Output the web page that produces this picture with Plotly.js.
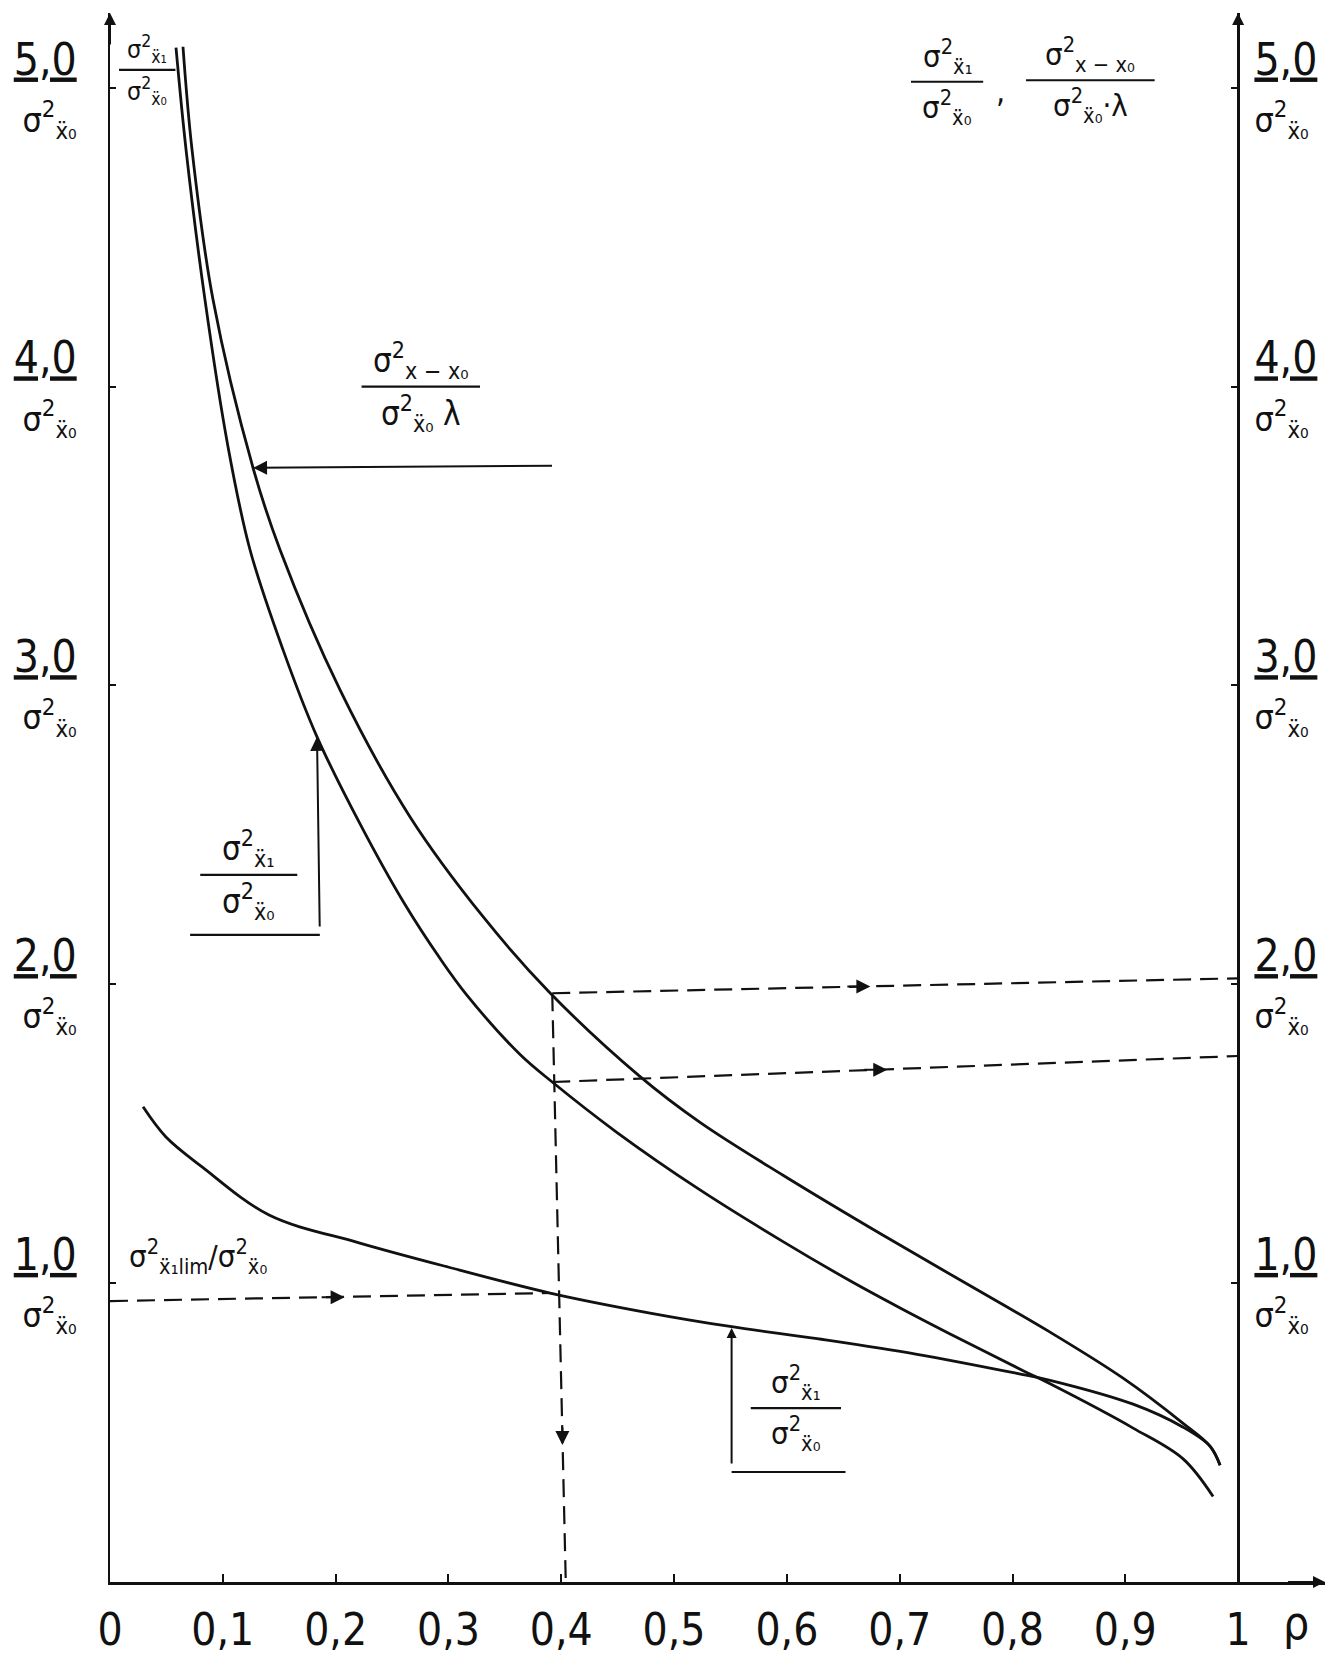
<!DOCTYPE html>
<html>
<head>
<meta charset="utf-8">
<script src="https://cdn.plot.ly/plotly-3.0.1.min.js"></script>
<style>
html,body{margin:0;padding:0;background:#ffffff;}
#chart{width:1333px;height:1666px;}
</style>
</head>
<body>
<div id="chart"></div>
<script>
// ---------- data ----------
// x axis (rho) ticks
const rhoTicks = [0, 0.1, 0.2, 0.3, 0.4, 0.5, 0.6, 0.7, 0.8, 0.9, 1];
const rhoTickText = ['0', '0,1', '0,2', '0,3', '0,4', '0,5', '0,6', '0,7', '0,8', '0,9', '1'];
// y axis ticks (numerators of the fraction labels)
const yTicks = [10, 20, 30, 40, 50];
const yTickNums = ['1,0', '2,0', '3,0', '4,0', '5,0'];

// curve 1: sigma^2_{x-x0} / (sigma^2_{x''0} * lambda)
const rhoA = [0.0647, 0.0727, 0.0913, 0.1268, 0.1507, 0.2039, 0.2660, 0.3307, 0.3901, 0.4699, 0.5230, 0.5966, 0.6853, 0.7598, 0.8333, 0.8980, 0.9512, 0.9752, 0.9840];
const valA = [51.37, 47.93, 42.91, 37.28, 34.54, 29.85, 25.60, 22.26, 19.71, 16.91, 15.38, 13.61, 11.60, 9.97, 8.36, 6.82, 5.31, 4.54, 3.91];

// curve 2: sigma^2_{x''1} / sigma^2_{x''0}
const rhoB = [0.0585, 0.0674, 0.0842, 0.1046, 0.1241, 0.1534, 0.1835, 0.2220, 0.2600, 0.2926, 0.3165, 0.3635, 0.3920, 0.4495, 0.5230, 0.5966, 0.6560, 0.7004, 0.7447, 0.8094, 0.8333, 0.9069, 0.9512, 0.9778];
const valB = [51.34, 47.93, 42.90, 37.99, 34.54, 31.19, 28.28, 25.34, 22.76, 20.86, 19.63, 17.65, 16.73, 15.04, 13.12, 11.39, 10.08, 9.17, 8.30, 7.07, 6.63, 5.15, 4.12, 2.86];

// curve 3: sigma^2_{x''1 lim} / sigma^2_{x''0}
const rhoC = [0.0293, 0.0496, 0.0816, 0.1410, 0.2207, 0.2996, 0.3901, 0.4787, 0.5496, 0.6268, 0.7154, 0.8041, 0.8333, 0.9069, 0.9512, 0.9752, 0.9840];
const valC = [15.90, 14.89, 13.89, 12.28, 11.35, 10.54, 9.67, 9.00, 8.55, 8.14, 7.62, 6.98, 6.75, 5.95, 5.18, 4.54, 3.91];

// dashed reading lines at rho = 0.4
const guideVertRho = [0.392, 0.404];
const guideVertVal = [19.7, 0];
const guideTopRho = [0.392, 1.0];
const guideTopVal = [19.7, 20.2];
const guideMidRho = [0.392, 1.0];
const guideMidVal = [16.73, 17.6];
const guideLowRho = [0, 0.392];
const guideLowVal = [9.4, 9.67];

// ---------- styling ----------
const FONT = '"DejaVu Sans Condensed", "Liberation Sans Narrow", "Roboto Condensed", "DejaVu Sans", sans-serif';
const INK = '#111111';
const DEN = 'σ<sup>2</sup><sub>ẍ₀</sub>';
const yTickText = yTickNums.map(n => '<u>' + n + '</u><br><span style="font-size:34px">' + DEN + '</span>');

function curve(x, y) {
  return {x: x, y: y, type: 'scatter', mode: 'lines', hoverinfo: 'skip',
          line: {color: INK, width: 2.8, shape: 'spline', smoothing: 1.0}};
}
function guide(x, y, axis) {
  return {x: x, y: y, type: 'scatter', mode: 'lines', hoverinfo: 'skip', yaxis: axis || 'y',
          line: {color: INK, width: 2.2, dash: '18px,9px'}};
}

const traces = [
  curve(rhoA, valA),
  curve(rhoB, valB),
  curve(rhoC, valC),
  guide(guideVertRho, guideVertVal),
  guide(guideLowRho, guideLowVal),
  guide(guideTopRho, guideTopVal, 'y2'),
  guide(guideMidRho, guideMidVal, 'y2')
];

// fraction helper: numerator / bar / denominator
const shapes = [];
const annotations = [];
function fraction(x0, x1, v, num, den, size) {
  const xc = (x0 + x1) / 2;
  shapes.push({type: 'line', xref: 'x', yref: 'y', x0: x0, x1: x1, y0: v, y1: v,
               line: {color: INK, width: 2.2}});
  annotations.push({x: xc, y: v, xref: 'x', yref: 'y', text: num, showarrow: false,
                    yanchor: 'bottom', yshift: 1, font: {family: FONT, size: size, color: INK}});
  annotations.push({x: xc, y: v, xref: 'x', yref: 'y', text: den, showarrow: false,
                    yanchor: 'top', yshift: -1, font: {family: FONT, size: size, color: INK}});
}
function arrow(x, y, ax, ay, extra) {
  annotations.push(Object.assign({x: x, y: y, ax: ax, ay: ay, xref: 'x', yref: 'y', text: ' ',
    showarrow: true, arrowhead: 2, arrowsize: 1.4, arrowwidth: 2, arrowcolor: INK}, extra || {}));
}

const NUM_XX0 = 'σ<sup>2</sup><sub>x − x₀</sub>';
const NUM_X1 = 'σ<sup>2</sup><sub>ẍ₁</sub>';

// axis titles written at the tops of both axes
fraction(0.008, 0.058, 50.6, NUM_X1, DEN, 25);
fraction(0.710, 0.774, 50.2, NUM_X1, DEN, 31);
annotations.push({x: 0.789, y: 49.9, xref: 'x', yref: 'y', text: ',', showarrow: false,
                  font: {family: FONT, size: 32, color: INK}});
fraction(0.812, 0.926, 50.25, NUM_XX0, DEN + '·λ', 31);

// label of curve 1 with leader arrow
fraction(0.223, 0.328, 40.0, NUM_XX0, DEN + ' λ', 33);
arrow(0.1268, 37.28, 0.3945, 37.35, {axref: 'x', ayref: 'y'});

// label of curve 2 with bracket arrow
fraction(0.080, 0.166, 23.66, NUM_X1, DEN, 33);
shapes.push({type: 'line', xref: 'x', yref: 'y', x0: 0.071, x1: 0.186, y0: 21.65, y1: 21.65,
             line: {color: INK, width: 2.2}});
arrow(0.1835, 28.28, 0.186, 21.65, {axref: 'x', ayref: 'y'});

// second label of curve 2 (bottom) with bracket arrow
fraction(0.568, 0.648, 5.82, NUM_X1, DEN, 31);
shapes.push({type: 'line', xref: 'x', yref: 'y', x0: 0.551, x1: 0.652, y0: 3.68, y1: 3.68,
             line: {color: INK, width: 2.2}});
arrow(0.551, 8.5, 0.551, 3.68, {axref: 'x', ayref: 'y', arrowsize: 1.0});

// label of curve 3
annotations.push({x: 0.078, y: 10.9, xref: 'x', yref: 'y', showarrow: false,
                  text: 'σ<sup>2</sup><sub>ẍ₁lim</sub>/σ<sup>2</sup><sub>ẍ₀</sub>',
                  font: {family: FONT, size: 31, color: INK}});

// arrow heads on dashed reading lines
arrow(0.674, 19.93, -26, 0);
arrow(0.689, 17.14, -26, 0);
arrow(0.208, 9.53, -26, 0);
arrow(0.401, 4.58, 0, -26);

// axis arrow heads
arrow(0, 52.5, 0, 40, {arrowhead: 2, arrowsize: 1.2});
arrow(1, 52.5, 0, 40, {arrowhead: 2, arrowsize: 1.2, yref: 'y2'});
arrow(1.077, 0, -40, 0, {arrowhead: 2, arrowsize: 1.2});

// rho label at the end of the x axis
annotations.push({x: 1.051, y: 0, xref: 'x', yref: 'y', text: 'ρ', showarrow: false,
                  yanchor: 'top', yshift: -12, font: {family: FONT, size: 46, color: INK}});

const layout = {
  width: 1333, height: 1666,
  margin: {l: 110, r: 8, t: 13, b: 84},
  paper_bgcolor: '#ffffff', plot_bgcolor: '#ffffff',
  showlegend: false,
  font: {family: FONT, color: INK},
  xaxis: {
    range: [0, 1.077], showgrid: false, zeroline: false,
    showline: true, linecolor: INK, linewidth: 2.5,
    tickmode: 'array', tickvals: rhoTicks, ticktext: rhoTickText,
    ticks: 'inside', ticklen: 8, tickwidth: 2, tickcolor: INK,
    ticklabelstandoff: 8,
    tickfont: {family: FONT, size: 44, color: INK}
  },
  yaxis: {
    range: [0, 52.5], showgrid: false, zeroline: false,
    showline: true, linecolor: INK, linewidth: 2.5,
    tickmode: 'array', tickvals: yTicks, ticktext: yTickText,
    ticks: 'inside', ticklen: 6, tickwidth: 2, tickcolor: INK,
    ticklabelstandoff: 22,
    tickfont: {family: FONT, size: 44, color: INK}
  },
  yaxis2: {
    range: [0, 52.5], overlaying: 'y', side: 'right', anchor: 'free', position: 1 / 1.077,
    showgrid: false, zeroline: false,
    showline: true, linecolor: INK, linewidth: 2.5,
    tickmode: 'array', tickvals: yTicks, ticktext: yTickText,
    ticks: 'inside', ticklen: 6, tickwidth: 2, tickcolor: INK,
    ticklabelstandoff: 6,
    tickfont: {family: FONT, size: 44, color: INK}
  },
  shapes: shapes,
  annotations: annotations
};

Plotly.newPlot('chart', traces, layout, {staticPlot: true, displayModeBar: false});
</script>
</body>
</html>
